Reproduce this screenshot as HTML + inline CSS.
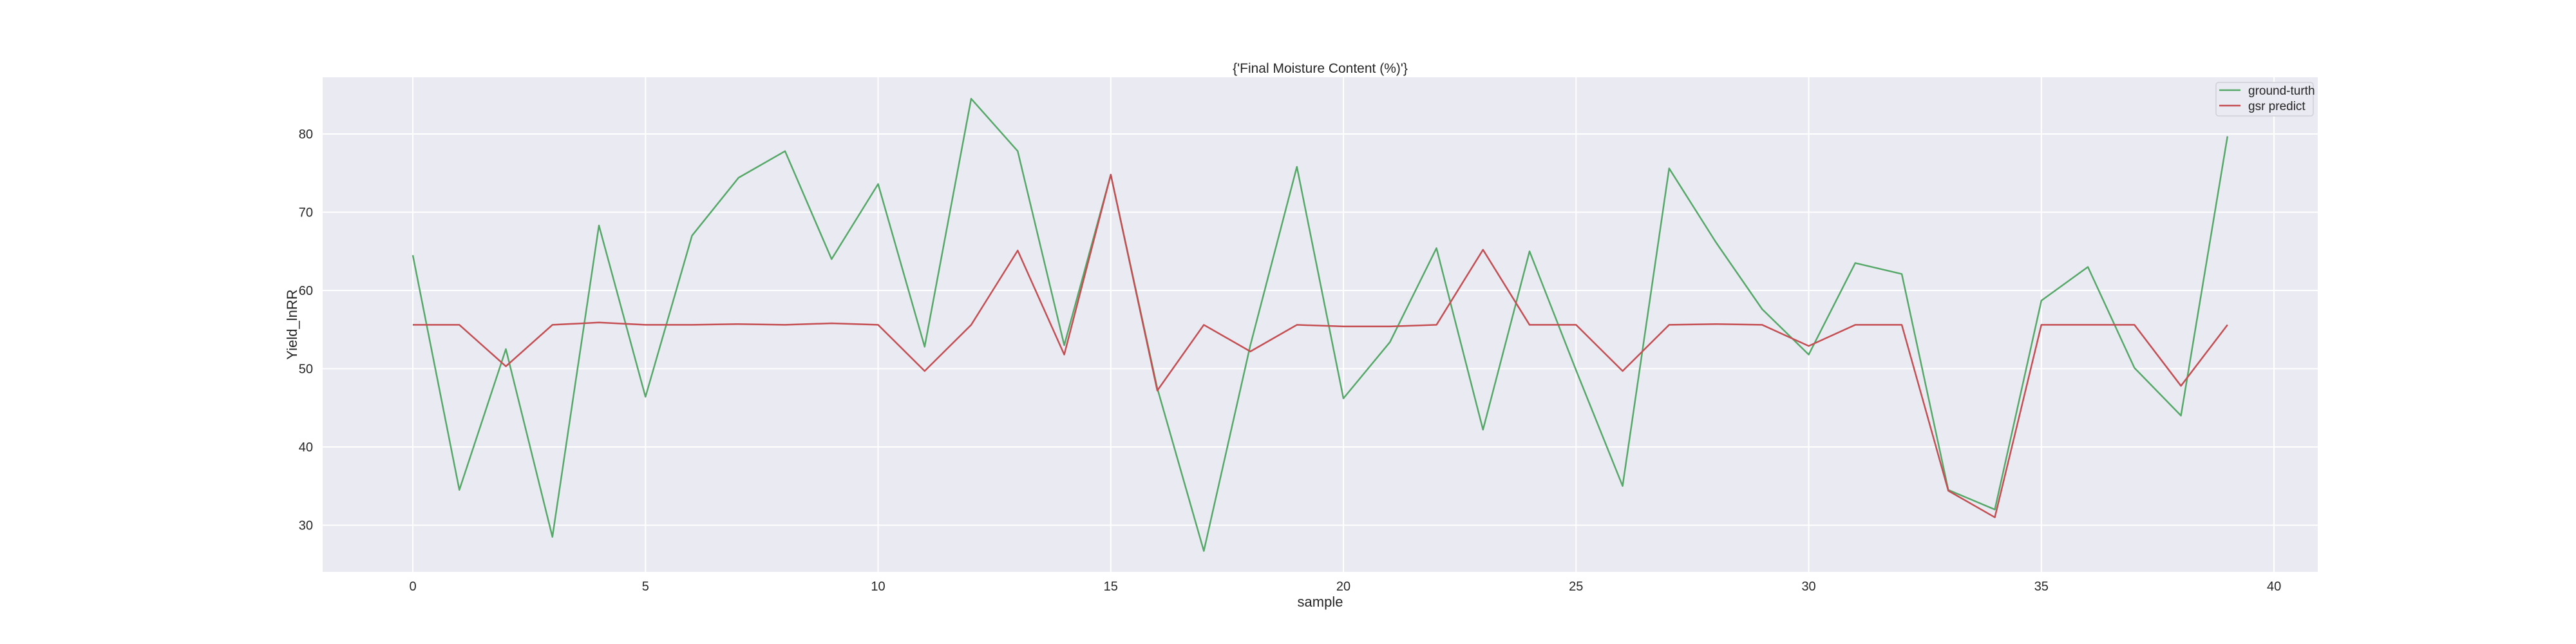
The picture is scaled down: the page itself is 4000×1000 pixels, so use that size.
<!DOCTYPE html>
<html><head><meta charset="utf-8"><style>
body{margin:0;background:#fff;}
svg{display:block;font-family:"Liberation Sans","Noto Sans CJK JP",sans-serif;}
</style></head><body>
<svg id="chart" width="4000" height="1000" viewBox="0 0 4000 1000" xmlns="http://www.w3.org/2000/svg">
<rect x="501" y="120" width="3098" height="768" fill="#eaeaf2"/>
<g id="grid"></g>
<g id="series"></g>
<text x="2050" y="113" font-size="21" text-anchor="middle" fill="#262626">{'Final Moisture Content (%)'}</text>
<text x="2050" y="942" font-size="22" text-anchor="middle" fill="#262626">sample</text>
<text x="0" y="0" font-size="22" text-anchor="middle" fill="#262626" transform="translate(461,504) rotate(-90)">Yield_lnRR</text>
<g>
<rect x="3441" y="128" width="151" height="52" rx="4" fill="#eaeaf2" stroke="#d0d0d8" stroke-width="1.5"/>
<line x1="3446" y1="140" x2="3479" y2="140" stroke="#55a868" stroke-width="2.5"/>
<text x="3491" y="147" font-size="19" fill="#262626">ground-turth</text>
<line x1="3446" y1="164" x2="3479" y2="164" stroke="#c44e52" stroke-width="2.5"/>
<text x="3491" y="171" font-size="19" fill="#262626">gsr predict</text>
</g>
</svg>
<script>
const samples = Array.from({length:40},(_,i)=>i);
const groundTruth = [64.5,34.5,52.5,28.5,68.3,46.4,67.0,74.4,77.8,64.0,73.6,52.8,84.5,77.8,53.0,74.8,47.5,26.7,53.0,75.8,46.2,53.4,65.4,42.2,65.0,49.8,35.0,75.6,66.2,57.6,51.8,63.5,62.1,34.5,32.0,58.7,63.0,50.1,44.0,79.7];
const gsrPredict = [55.6,55.6,50.3,55.6,55.9,55.6,55.6,55.7,55.6,55.8,55.6,49.7,55.6,65.1,51.8,74.8,47.2,55.6,52.2,55.6,55.4,55.4,55.6,65.2,55.6,55.6,49.7,55.6,55.7,55.6,52.9,55.6,55.6,34.4,31.0,55.6,55.6,55.6,47.8,55.6];
const xTicks = [0,5,10,15,20,25,30,35,40];
const yTicks = [30,40,50,60,70,80];

const NS="http://www.w3.org/2000/svg";
const X0=-1.938, X1=40.94, Y0=24.03, Y1=87.24;
const L=501,R=3599,T=120,B=888;
const xs=v=>L+(v-X0)/(X1-X0)*(R-L);
const ys=v=>B-(v-Y0)/(Y1-Y0)*(B-T);
const grid=document.getElementById('grid');
const series=document.getElementById('series');
function mk(tag,attrs,parent){const e=document.createElementNS(NS,tag);for(const k in attrs)e.setAttribute(k,attrs[k]);parent.appendChild(e);return e;}
xTicks.forEach(t=>{
  const l=mk('line',{x1:xs(t),x2:xs(t),y1:T,y2:B,stroke:'#fff','stroke-width':2},grid);
  
  
  const tx=mk('text',{x:xs(t),y:917,'font-size':20,'text-anchor':'middle',fill:'#262626'},grid);
  tx.textContent=t;
  
  
});
yTicks.forEach(t=>{
  const l=mk('line',{x1:L,x2:R,y1:ys(t),y2:ys(t),stroke:'#fff','stroke-width':2},grid);
  
  
  const tx=mk('text',{x:486,y:ys(t)+7,'font-size':20,'text-anchor':'end',fill:'#262626'},grid);
  tx.textContent=t;
  
  
});
function line(vals,color,name){
  const p=mk('polyline',{points:vals.map((v,i)=>xs(samples[i])+','+ys(v)).join(' '),fill:'none',stroke:color,'stroke-width':2.5,'stroke-linejoin':'round'},series);
  
  
}
line(groundTruth,'#55a868','ground-truth-line');
line(gsrPredict,'#c44e52','gsr-predict-line');
</script>
</body></html>
